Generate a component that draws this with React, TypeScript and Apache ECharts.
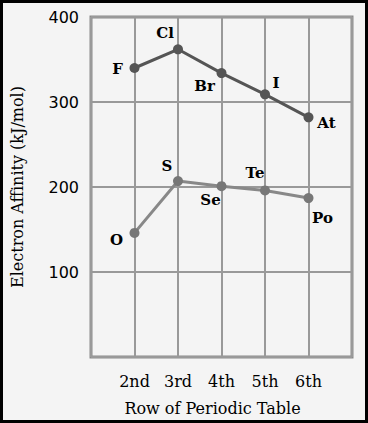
import React, { useEffect, useRef } from "react";
import * as echarts from "echarts";

const rows = ["1st", "2nd", "3rd", "4th", "5th", "6th", "7th"];
const shownRows = ["2nd", "3rd", "4th", "5th", "6th"];
const halogens = ["F", "Cl", "Br", "I", "At"];
const halogenValues = [340, 362, 334, 309, 282];
const chalcogens = ["O", "S", "Se", "Te", "Po"];
const chalcogenValues = [146, 207, 201, 196, 187];
const yTicks = [100, 200, 300, 400];

const halogenLabelOffsets = [[-17, 1], [-13, -16], [-17, 13], [11, -11], [18, 6]];
const chalcogenLabelOffsets = [[-18, 7], [-11, -15], [-11, 14], [-10, -17], [14, 20]];

export default function App() {
  const ref = useRef<HTMLDivElement>(null);
  useEffect(() => {
    if (!ref.current) return;
    const chart = echarts.init(ref.current, undefined, { renderer: "svg" });
    const serif = "DejaVu Serif";
    const mk = (names: string[], vals: number[], offs: number[][]) =>
      vals.map((v, i) => ({
        value: [rows.indexOf(shownRows[i]) + 1, v],
        name: names[i],
        label: { offset: offs[i] },
      }));
    const pointLabel = {
      show: true,
      position: "inside",
      formatter: (p: any) => p.name,
      fontFamily: serif,
      fontSize: 15,
      fontWeight: "bold",
      color: "#000",
    };
    chart.setOption({
      animation: false,
      backgroundColor: "#f4f4f4",
      graphic: [
        {
          type: "rect",
          shape: { x: 1.5, y: 1.5, width: 365, height: 420 },
          style: { fill: "none", stroke: "#000", lineWidth: 3 },
          z: 100,
        },
      ],
      grid: {
        left: 91,
        top: 17,
        width: 261,
        height: 340,
        show: true,
        borderColor: "#8a8a8a",
        borderWidth: 3,
        backgroundColor: "transparent",
      },
      xAxis: {
        type: "value",
        min: 1,
        max: 7,
        interval: 1,
        name: "Row of Periodic Table",
        nameLocation: "middle",
        nameGap: 43,
        nameTextStyle: { fontFamily: serif, fontSize: 16, color: "#000", padding: [0, 18, 0, 0] },
        axisLine: { show: false },
        axisTick: { show: false },
        splitLine: { lineStyle: { color: "#999", width: 2 } },
        axisLabel: {
          margin: 16,
          fontFamily: serif,
          fontSize: 16,
          color: "#000",
          formatter: (v: number) => {
            const r = rows[Math.round(v) - 1];
            return shownRows.includes(r) ? r : "";
          },
        },
      },
      yAxis: {
        type: "value",
        min: 0,
        max: 400,
        interval: 100,
        name: "Electron Affinity (kJ/mol)",
        nameLocation: "middle",
        nameGap: 66,
        nameTextStyle: { fontFamily: serif, fontSize: 16, color: "#000" },
        axisLine: { show: false },
        axisTick: { show: false },
        splitLine: { lineStyle: { color: "#999", width: 2 } },
        axisLabel: {
          margin: 12,
          fontFamily: "DejaVu Sans",
          fontSize: 16,
          color: "#000",
          formatter: (v: number) => (yTicks.includes(v) ? String(v) : ""),
        },
      },
      series: [
        {
          type: "line",
          data: mk(halogens, halogenValues, halogenLabelOffsets),
          symbol: "circle",
          symbolSize: 10,
          lineStyle: { color: "#555", width: 3 },
          itemStyle: { color: "#555" },
          label: pointLabel,
        },
        {
          type: "line",
          data: mk(chalcogens, chalcogenValues, chalcogenLabelOffsets),
          symbol: "circle",
          symbolSize: 10,
          lineStyle: { color: "#888", width: 3 },
          itemStyle: { color: "#777" },
          label: pointLabel,
        },
      ],
    });
    return () => chart.dispose();
  }, []);
  return (
    <div
      ref={ref}
      style={{ position: "fixed", left: 0, top: 0, width: 368, height: 423 }}
    />
  );
}
